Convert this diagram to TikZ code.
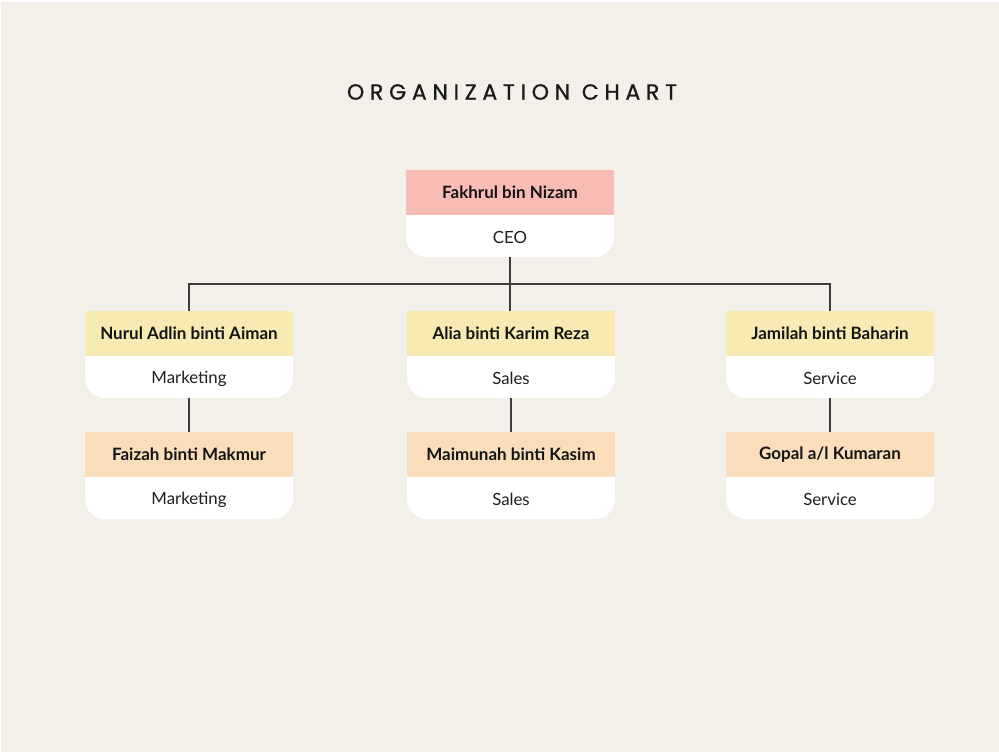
\documentclass[tikz,border=0pt]{standalone}
\usepackage{fontspec}
\setmainfont{Lato}
\newfontfamily\titlefont[LetterSpace=26,FakeBold=0.8]{Poppins}
\usetikzlibrary{calc}

\definecolor{paper}{RGB}{243,239,233}
\definecolor{ceohead}{RGB}{249,188,180}
\definecolor{leadhead}{RGB}{247,234,178}
\definecolor{staffhead}{RGB}{250,222,187}
\definecolor{wire}{RGB}{60,60,60}

\tikzset{
  card/.style={minimum width=208pt, minimum height=87pt, inner sep=0pt, outer sep=0pt},
  nametext/.style={font=\fontsize{17}{20}\selectfont\bfseries, text=black!92},
  roletext/.style={font=\fontsize{16.8}{20}\selectfont, text=black!88},
  link/.style={draw=wire, line width=1.2pt},
}

% one card: box name, centre x, top y, header colour, person, role
% (y grows downwards in this picture)
\newcommand{\orgcard}[6]{%
  \node[card, anchor=north] (#1) at (#2,#3) {};
  \fill[white, rounded corners=20pt] ($(#1.north west)+(0,20)$) rectangle (#1.south east);
  \fill[#4] (#1.north west) rectangle ($(#1.north east)+(0,45)$);
  \node[nametext] (#1-name) at ($(#1.north)+(0,22.5)$) {#5};
  \node[roletext] (#1-role) at ($(#1.south)+(0,-19.5)$) {#6};
}

\begin{document}
\begin{tikzpicture}[x=1pt, y=-1pt]
  \useasboundingbox (0,0) rectangle (999,752);
  \fill[white] (0,0) rectangle (999,752);
  \fill[paper] (1,2) rectangle (999,752);

  \node[font=\titlefont\fontsize{22}{26}\selectfont, text=black!90] (title) at (512,92) {ORGANIZATION CHART};

  \orgcard{ceo}{510}{170}{ceohead}{Fakhrul bin Nizam}{CEO}

  \orgcard{mkt}{189}{311}{leadhead}{Nurul Adlin binti Aiman}{Marketing}
  \orgcard{sal}{511}{311}{leadhead}{Alia binti Karim Reza}{Sales}
  \orgcard{svc}{830}{311}{leadhead}{Jamilah binti Baharin}{Service}

  \orgcard{mkt2}{189}{432}{staffhead}{Faizah binti Makmur}{Marketing}
  \orgcard{sal2}{511}{432}{staffhead}{Maimunah binti Kasim}{Sales}
  \orgcard{svc2}{830}{432}{staffhead}{Gopal a/l Kumaran}{Service}

  % reporting lines
  \draw[link] (ceo.south) -- (ceo.south |- sal.north);
  \draw[link] (mkt.north) -- ++(0,-27) -| (svc.north);
  \draw[link] (mkt.south) -- (mkt2.north);
  \draw[link] (sal.south) -- (sal2.north);
  \draw[link] (svc.south) -- (svc2.north);
\end{tikzpicture}
\end{document}
